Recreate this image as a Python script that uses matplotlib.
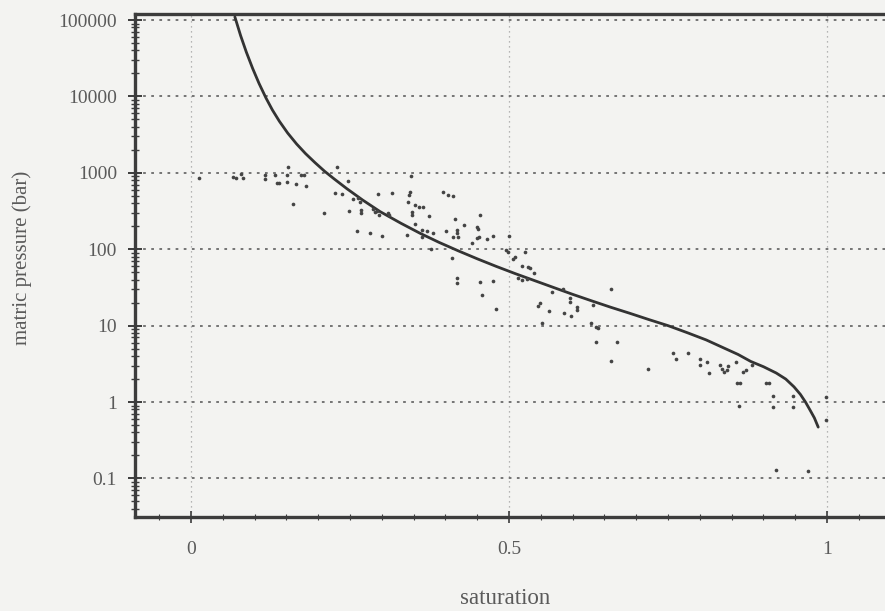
import numpy as np
import matplotlib
matplotlib.use('Agg')
import matplotlib.pyplot as plt
from matplotlib.ticker import FixedLocator, FixedFormatter, LogLocator, MultipleLocator, NullFormatter

plt.rcParams['font.family'] = ['Liberation Serif', 'DejaVu Serif']

# fitted curve
curve_s = [0.069, 0.078, 0.087, 0.097, 0.107, 0.118, 0.128, 0.139, 0.152, 0.166,
           0.18, 0.195, 0.21, 0.225, 0.245, 0.27, 0.297, 0.33, 0.36, 0.39,
           0.42, 0.45, 0.48, 0.51, 0.54, 0.57, 0.60, 0.63, 0.66, 0.69,
           0.72, 0.75, 0.78, 0.81, 0.84, 0.86, 0.88, 0.90, 0.92, 0.935,
           0.948, 0.958, 0.966, 0.973, 0.98, 0.986]
curve_p = [110000, 62700, 38100, 23200, 14800, 9510, 6650, 4730, 3320, 2390,
           1790, 1360, 1050, 834, 621, 440, 312, 219, 162, 123,
           95.5, 75, 59.6, 47.9, 38.9, 31.6, 25.7, 21.1, 17.4, 14.5,
           12.0, 10.0, 8.1, 6.5, 5.0, 4.2, 3.4, 2.9, 2.4, 2.0,
           1.58, 1.26, 1.0, 0.79, 0.62, 0.47]

# measured points
meas_s = [0.013, 0.066, 0.071, 0.079, 0.082, 0.116, 0.116, 0.132, 0.135, 0.138,
          0.153, 0.151, 0.151, 0.165, 0.173, 0.178, 0.181, 0.160, 0.209, 0.230,
          0.247, 0.226, 0.237, 0.263, 0.266, 0.255, 0.294, 0.316, 0.248, 0.267,
          0.267, 0.286, 0.289, 0.292, 0.296, 0.310, 0.311, 0.261, 0.281, 0.300,
          0.340, 0.346, 0.344, 0.343, 0.341, 0.352, 0.358, 0.365, 0.347, 0.347,
          0.374, 0.352, 0.363, 0.371, 0.381, 0.363, 0.377, 0.396, 0.404, 0.412,
          0.401, 0.415, 0.418, 0.418, 0.420, 0.412, 0.429, 0.410, 0.418, 0.418,
          0.454, 0.450, 0.451, 0.442, 0.450, 0.453, 0.465, 0.475, 0.454, 0.475,
          0.458, 0.480, 0.500, 0.495, 0.498, 0.506, 0.509, 0.525, 0.520, 0.530,
          0.533, 0.539, 0.514, 0.520, 0.528, 0.546, 0.549, 0.552, 0.563, 0.568,
          0.585, 0.596, 0.596, 0.586, 0.597, 0.607, 0.607, 0.632, 0.629, 0.637,
          0.640, 0.637, 0.660, 0.670, 0.660, 0.719, 0.758, 0.763, 0.781, 0.800,
          0.800, 0.811, 0.814, 0.832, 0.835, 0.838, 0.843, 0.844, 0.857, 0.868,
          0.873, 0.882, 0.858, 0.863, 0.904, 0.909, 0.915, 0.862, 0.915, 0.947,
          0.947, 0.998, 0.998, 0.920, 0.970]
meas_p = [850, 880, 850, 960, 850, 935, 830, 935, 735, 735,
          1190, 935, 758, 713, 935, 935, 672, 391, 298, 1190,
          781, 544, 528, 468, 415, 454, 528, 544, 316, 326,
          298, 336, 307, 316, 280, 298, 280, 173, 163, 149,
          153, 908, 561, 512, 415, 379, 357, 357, 307, 280,
          272, 214, 178, 173, 163, 144, 101, 561, 512, 497,
          173, 249, 178, 163, 144, 144, 207, 77, 42, 36,
          280, 195, 184, 121, 140, 144, 136, 149, 37, 38,
          25, 16.5, 149, 98, 92, 74, 79, 92, 60, 58,
          57, 49, 42, 40, 41, 18, 20, 10.8, 15.5, 27.5,
          30, 23, 20.4, 14.6, 13.4, 17.5, 16, 18.6, 10.8, 9.6,
          9.3, 6.1, 30, 6.1, 3.4, 2.7, 4.4, 3.7, 4.4, 3.7,
          3.05, 3.3, 2.4, 3.05, 2.7, 2.5, 2.6, 3.0, 3.3, 2.5,
          2.6, 3.05, 1.77, 1.77, 1.77, 1.77, 1.2, 0.89, 0.86, 1.2,
          0.86, 1.16, 0.58, 0.129, 0.125]

y_ticks = [0.1, 1, 10, 100, 1000, 10000, 100000]
y_labels = ['0.1', '1', '10', '100', '1000', '10000', '100000']
x_ticks = [0, 0.5, 1]
x_labels = ['0', '0.5', '1']

bg = '#f3f3f1'
ink = '#3c3c3c'
txt = '#5a5a5a'

fig = plt.figure(figsize=(8.85, 6.11), dpi=100, facecolor=bg)
ax = fig.add_axes([135 / 885, 1 - 517 / 611, 1 - 135 / 885, (517 - 14) / 611])
ax.set_facecolor(bg)
ax.set_yscale('log')
ax.set_xlim(-0.088, 1.091)
ax.set_ylim(0.0313, 1.2e5)

ax.yaxis.set_major_locator(FixedLocator(y_ticks))
ax.yaxis.set_major_formatter(FixedFormatter(y_labels))
ax.yaxis.set_minor_locator(LogLocator(base=10, subs=np.arange(2, 10)))
ax.yaxis.set_minor_formatter(NullFormatter())
ax.xaxis.set_major_locator(FixedLocator(x_ticks))
ax.xaxis.set_major_formatter(FixedFormatter(x_labels))
ax.xaxis.set_minor_locator(MultipleLocator(0.05))

ax.grid(True, which='major', axis='y', linestyle=(0, (1.5, 3)), color='#6a6a6a', linewidth=1.3)
ax.grid(True, which='major', axis='x', linestyle=(0, (1, 3)), color='#a0a0a0', linewidth=0.9)

ax.plot(curve_s, curve_p, color='#333333', linewidth=2.0, zorder=3,
        solid_joinstyle='round', solid_capstyle='round')
ax.scatter(meas_s, meas_p, s=7, color='#444444', linewidths=0, zorder=4)

for side in ['top', 'left', 'bottom']:
    ax.spines[side].set_color(ink)
    ax.spines[side].set_linewidth(2.4)
ax.spines['right'].set_visible(False)

ax.tick_params(axis='y', which='major', direction='inout', length=10, width=1.4, color=ink,
               labelsize=14, labelcolor=txt, pad=8)
ax.tick_params(axis='y', which='minor', direction='inout', length=6, width=1.0, color=ink)
ax.tick_params(axis='x', which='major', direction='inout', length=8, width=1.2, color=ink,
               labelsize=14, labelcolor=txt, pad=13)
ax.tick_params(axis='x', which='minor', direction='inout', length=4, width=0.8, color=ink)

fig.text(505 / 885, 1 - 598 / 611, 'saturation', ha='center', va='center', fontsize=16.5, color=txt)
fig.text(22 / 885, 1 - 258 / 611, 'matric pressure (bar)', ha='center', va='center',
         rotation=90, fontsize=15, color=txt)

fig.savefig('out.png', dpi=100, facecolor=bg)
